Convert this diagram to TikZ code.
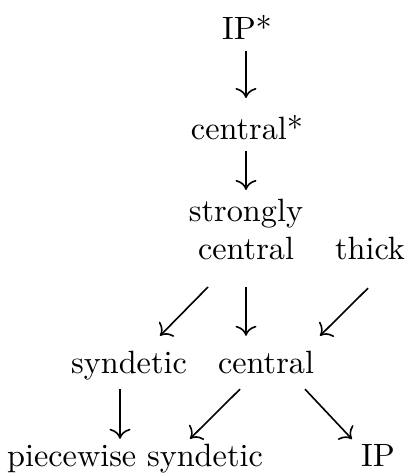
\documentclass[tikz,border=0pt]{standalone}
\usetikzlibrary{calc,cd}

\begin{document}
\begin{tikzpicture}[x=0.31pt,y=-0.31pt,>=cm to,line width=0.5pt]
  \tikzset{lbl/.style={inner sep=0pt,anchor=base}}
  \useasboundingbox (0,0) rectangle (407,473);
  \node[lbl] (ipstar) at (247,40) {IP*};
  \node[lbl] (cstar) at (247,140) {central*};
  \node[lbl,align=center,anchor=south] (sc) at (246,261) {strongly\\central};
  \node[lbl] (thick) at (370,259) {thick};
  \node[lbl] (syn) at (129,373) {syndetic};
  \node[lbl] (cen) at (266,373) {central};
  \node[lbl] (pws) at (135,466) {piecewise syndetic};
  \node[lbl] (ip) at (378,466) {IP};
  \draw[->] ($(ipstar.south)+(-1,10)$) -- ($(cstar.north)+(-1,-17)$);
  \draw[->] ($(cstar.south)+(-1,10)$) -- ($(sc.north)+(0,-8)$);
  \draw[->] ($(sc.south)+(-38,26)$) -- ($(syn.north)+(31,-14)$);
  \draw[->] ($(sc.south)+(0,26)$) -- ($(cen.north)+(-20,-14)$);
  \draw[->] ($(thick.south)+(-2,28)$) -- ($(cen.north)+(54,-14)$);
  \draw[->] ($(syn.south)+(-9,9)$) -- ($(pws.north)+(-15,-4)$);
  \draw[->] ($(cen.south)+(-26,15)$) -- ($(pws.north)+(55,-4)$);
  \draw[->] ($(cen.south)+(39,15)$) -- ($(ip.north)+(-26,-4)$);
\end{tikzpicture}
\end{document}
